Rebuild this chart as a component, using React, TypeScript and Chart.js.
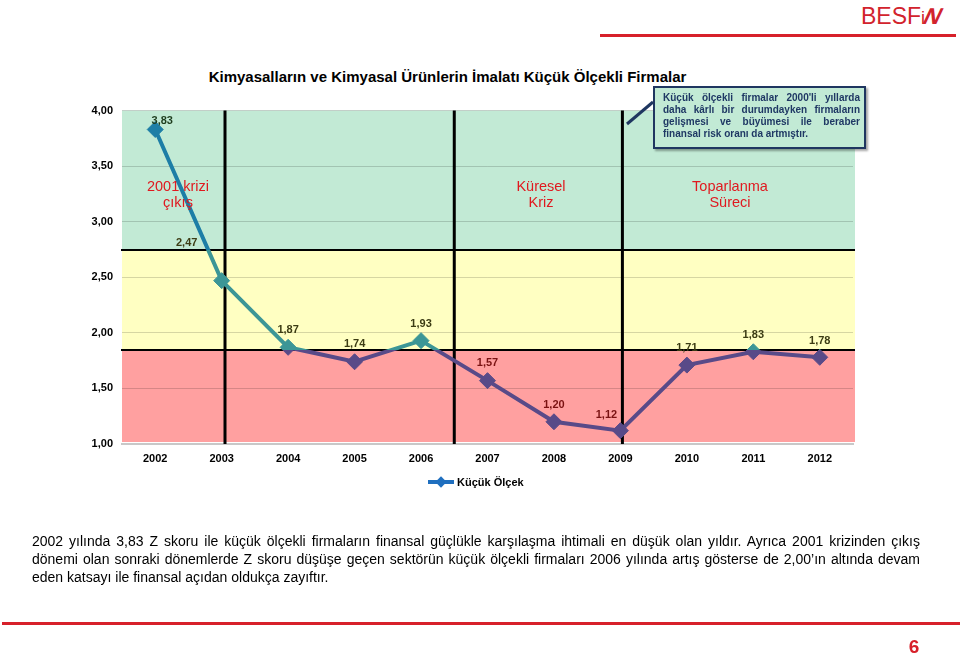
import React, { useEffect, useRef } from "react";
import { Chart, registerables } from "chart.js";

Chart.register(...registerables);

const years = ["2002", "2003", "2004", "2005", "2006", "2007", "2008", "2009", "2010", "2011", "2012"];
const kucukOlcek = [3.83, 2.47, 1.87, 1.74, 1.93, 1.57, 1.2, 1.12, 1.71, 1.83, 1.78];
const seriesName = "Küçük Ölçek";
const yMin = 1;
const yMax = 4;
const yStep = 0.5;
const safeLimit = 2.75;
const riskLimit = 1.85;
const dividers = [1.05, 4.5, 7.03];

const title = "Kimyasalların ve Kimyasal Ürünlerin İmalatı Küçük Ölçekli Firmalar";
const periodLabels = [
  { lines: ["2001 krizi", "çıkış"], x: 178 },
  { lines: ["Küresel", "Kriz"], x: 541 },
  { lines: ["Toparlanma", "Süreci"], x: 730 },
];
const calloutText = "Küçük ölçekli firmalar 2000'li yıllarda daha kârlı bir durumdayken firmaların gelişmesi ve büyümesi ile beraber finansal risk oranı da artmıştır.";
const bodyText = "2002 yılında 3,83 Z skoru ile küçük ölçekli firmaların finansal güçlükle karşılaşma ihtimali en düşük olan yıldır.  Ayrıca 2001 krizinden çıkış dönemi olan sonraki dönemlerde Z skoru düşüşe geçen sektörün küçük ölçekli firmaları 2006 yılında artış gösterse de 2,00’ın altında devam eden katsayı ile finansal açıdan oldukça zayıftır.";

const FONT = "'Liberation Sans', Arial, sans-serif";
const BLUE = "#1d7ea6";
const TEAL = "#3c9696";
const PURPLE = "#594a88";
const GREEN_BG = "#c2ead5";
const YELLOW_BG = "#ffffc2";
const RED_BG = "#ffa0a0";

const labelOffsets: [number, number][] = [
  [7, -9], [-35, -38], [0, -17], [0, -18], [0, -17], [0, -18], [0, -17], [-14, -16], [0, -17], [0, -17], [0, -16],
];

function labelColor(v: number) {
  if (v > safeLimit) return "#1e3d1e";
  if (v >= 1.65) return "#3c3c14";
  return "#7a1212";
}

function fmt(v: number) {
  return v.toFixed(2).replace(".", ",");
}

function makeGradient(chart: any) {
  const { ctx, chartArea, scales } = chart;
  if (!chartArea || !scales || !scales.y) return TEAL;
  const top = chartArea.top;
  const bottom = chartArea.bottom;
  const h = bottom - top;
  const f1 = Math.min(1, Math.max(0, (scales.y.getPixelForValue(safeLimit) - top) / h));
  const f2 = Math.min(1, Math.max(0, (scales.y.getPixelForValue(riskLimit) - top) / h));
  const g = ctx.createLinearGradient(0, top, 0, bottom);
  g.addColorStop(0, BLUE);
  g.addColorStop(f1, BLUE);
  g.addColorStop(f1, TEAL);
  g.addColorStop(f2, TEAL);
  g.addColorStop(f2, PURPLE);
  g.addColorStop(1, PURPLE);
  return g;
}

const zonesPlugin = {
  id: "zones",
  beforeDraw(chart: any) {
    const { ctx, chartArea, scales } = chart;
    const y = scales.y;
    const l = chartArea.left;
    const w = chartArea.right - chartArea.left + 2;
    const yTop = y.getPixelForValue(yMax);
    const ySafe = y.getPixelForValue(safeLimit);
    const yRisk = y.getPixelForValue(riskLimit);
    const yBot = y.getPixelForValue(yMin);
    ctx.save();
    ctx.fillStyle = GREEN_BG;
    ctx.fillRect(l, yTop, w, ySafe - yTop);
    ctx.fillStyle = YELLOW_BG;
    ctx.fillRect(l, ySafe, w, yRisk - ySafe);
    ctx.fillStyle = RED_BG;
    ctx.fillRect(l, yRisk, w, yBot - yRisk - 2);
    ctx.restore();
  },
  beforeDatasetsDraw(chart: any) {
    const { ctx, chartArea, scales } = chart;
    const y = scales.y;
    const x = scales.x;
    ctx.save();
    ctx.strokeStyle = "#000";
    ctx.lineWidth = 2;
    [safeLimit, riskLimit].forEach((v) => {
      const py = Math.round(y.getPixelForValue(v));
      ctx.beginPath();
      ctx.moveTo(chartArea.left - 1, py);
      ctx.lineTo(chartArea.right + 2, py);
      ctx.stroke();
    });
    ctx.lineWidth = 3;
    dividers.forEach((d) => {
      const px = x.getPixelForValue(d);
      ctx.beginPath();
      ctx.moveTo(px, chartArea.top);
      ctx.lineTo(px, chartArea.bottom);
      ctx.stroke();
    });
    ctx.restore();
  },
  afterDatasetsDraw(chart: any) {
    const { ctx } = chart;
    const meta = chart.getDatasetMeta(0);
    ctx.save();
    ctx.font = `bold 11px ${FONT}`;
    ctx.textAlign = "center";
    ctx.textBaseline = "middle";
    meta.data.forEach((pt: any, i: number) => {
      const v = kucukOlcek[i];
      const [dx, dy] = labelOffsets[i];
      ctx.fillStyle = labelColor(v);
      ctx.fillText(fmt(v), pt.x + dx, pt.y + dy);
    });
    ctx.restore();
  },
};

function ZChart() {
  const ref = useRef<HTMLCanvasElement>(null);
  useEffect(() => {
    if (!ref.current) return;
    const chart = new Chart(ref.current, {
      type: "line",
      data: {
        labels: years,
        datasets: [
          {
            label: seriesName,
            data: kucukOlcek,
            borderColor: (c: any) => makeGradient(c.chart),
            pointBackgroundColor: (c: any) => makeGradient(c.chart),
            pointBorderColor: (c: any) => makeGradient(c.chart),
            borderWidth: 4,
            pointStyle: "rectRot",
            pointRadius: 8,
            pointBorderWidth: 1,
            tension: 0,
          } as any,
        ],
      },
      options: {
        animation: false,
        responsive: false,
        devicePixelRatio: 1,
        layout: { padding: { top: 13, right: 27, left: 0, bottom: 0 } },
        plugins: {
          legend: { display: false },
          tooltip: { enabled: false },
          title: { display: false },
        },
        scales: {
          x: {
            type: "category",
            offset: true,
            grid: { display: false, drawTicks: false },
            border: { display: true, color: "#c8c8c8", width: 2 },
            ticks: {
              padding: 8,
              color: "#000",
              font: { family: FONT, size: 11, weight: "bold" },
            },
            afterFit(s: any) {
              s.height = 30;
            },
          },
          y: {
            min: yMin,
            max: yMax,
            grid: {
              drawTicks: false,
              color: (c: any) => (c.tick && c.tick.value === yMin ? "rgba(0,0,0,0)" : "rgba(0,0,0,0.16)"),
              lineWidth: 1,
            },
            border: { display: false },
            ticks: {
              stepSize: yStep,
              padding: 9,
              color: "#000",
              font: { family: FONT, size: 11, weight: "bold" },
              callback: (v: any) => fmt(Number(v)),
            },
            afterFit(s: any) {
              s.width = 62;
            },
          },
        },
      } as any,
      plugins: [zonesPlugin],
    });
    return () => chart.destroy();
  }, []);
  return <canvas ref={ref} width={820} height={379} style={{ position: "absolute", left: 60, top: 95, width: 820, height: 379 }} />;
}

export default function App() {
  return (
    <div style={{ position: "absolute", left: 0, top: 0, width: 960, height: 658, background: "#fff", fontFamily: FONT, overflow: "hidden" }}>
      {/* logo */}
      <div style={{ position: "absolute", left: 861, top: 2, fontSize: 23, color: "#d2232d", lineHeight: "28px", whiteSpace: "nowrap", letterSpacing: 0 }}>
        BESF<span style={{ fontSize: 18 }}>i</span>
        <span style={{ display: "inline-block", transform: "skewX(-25deg)", fontWeight: "bold" }}>N</span>
      </div>
      <div style={{ position: "absolute", left: 600, top: 34, width: 356, height: 2.5, background: "#d7202a" }} />

      {/* title */}
      <div style={{ position: "absolute", left: 0, width: 895, top: 68, textAlign: "center", fontWeight: "bold", fontSize: 15, lineHeight: "18px", color: "#000" }}>
        {title}
      </div>

      <ZChart />

      {/* period labels */}
      {periodLabels.map((p, i) => (
        <div key={i} style={{ position: "absolute", left: p.x - 60, width: 120, top: 178, textAlign: "center", color: "#e0191f", fontSize: 14.5, lineHeight: "16px" }}>
          {p.lines.map((l, j) => (
            <div key={j}>{l}</div>
          ))}
        </div>
      ))}

      {/* callout connector */}
      <svg style={{ position: "absolute", left: 0, top: 0 }} width={960} height={658}>
        <line x1={627} y1={124} x2={653} y2={102} stroke="#1f3660" strokeWidth={3} />
      </svg>

      {/* callout box */}
      <div
        style={{
          position: "absolute",
          left: 653,
          top: 86,
          width: 213,
          height: 63,
          boxSizing: "border-box",
          border: "2px solid #1f3660",
          background: GREEN_BG,
          boxShadow: "2px 2px 2px rgba(0,0,0,0.35)",
          padding: "4px 4px 0 8px",
          color: "#1f3864",
          fontWeight: "bold",
          fontSize: 10,
          lineHeight: "12px",
          textAlign: "justify",
        }}
      >
        {calloutText}
      </div>

      {/* legend */}
      <div style={{ position: "absolute", left: 428, top: 480, width: 26, height: 4, background: "#1f6fbf" }} />
      <div style={{ position: "absolute", left: 437, top: 478, width: 8, height: 8, background: "#1f6fbf", transform: "rotate(45deg)" }} />
      <div style={{ position: "absolute", left: 457, top: 474, fontSize: 11, fontWeight: "bold", lineHeight: "16px", color: "#000", whiteSpace: "nowrap" }}>
        {seriesName}
      </div>

      {/* body text */}
      <div style={{ position: "absolute", left: 32, top: 532, width: 888, fontSize: 14, lineHeight: "18px", textAlign: "justify", color: "#000" }}>
        {bodyText}
      </div>

      <div style={{ position: "absolute", left: 2, top: 622, width: 958, height: 3, background: "#d7202a" }} />
      <div style={{ position: "absolute", left: 900, top: 635, width: 28, textAlign: "center", fontSize: 19, fontWeight: "bold", color: "#d7202a", lineHeight: "24px" }}>
        6
      </div>
    </div>
  );
}
